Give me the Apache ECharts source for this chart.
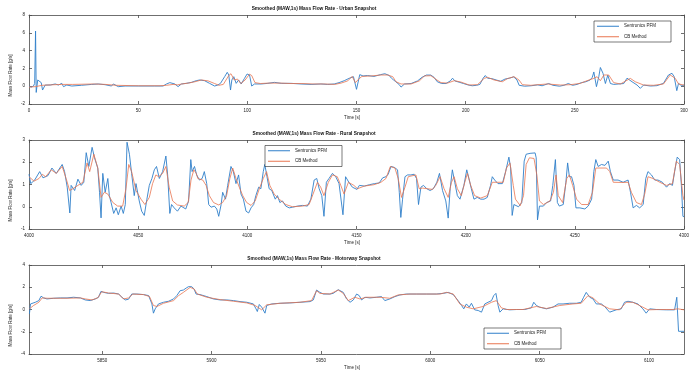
<!DOCTYPE html>
<html><head><meta charset="utf-8">
<script src="https://cdn.jsdelivr.net/npm/echarts@6/dist/echarts.min.js"></script>
<style>html,body{margin:0;padding:0;background:#fff}#c{width:692px;height:385px}</style>
</head><body><div id="c"></div>
<script>
// ---------------- DATA ----------------
const seriesNames = ['Sentronics PFM', 'CB Method'];
const titles = [
  'Smoothed (MAW,1s) Mass Flow Rate - Urban Snapshot',
  'Smoothed (MAW,1s) Mass Flow Rate - Rural Snapshot',
  'Smoothed (MAW,1s) Mass Flow Rate - Motorway Snapshot'
];
const xTicksUrban = [0, 50, 100, 150, 200, 250, 300];
const xTicksRural = [4000, 4050, 4100, 4150, 4200, 4250, 4300];
const xTicksMotorway = [5850, 5900, 5950, 6000, 6050, 6100];
const yTicksUrban = [-2, 0, 2, 4, 6, 8];
const yTicksRural = [-1, 0, 1, 2, 3];
const yTicksMotorway = [-4, -2, 0, 2, 4];

// Urban
const urbanPfmT = [0,1,2,2.6,3,3.3,3.6,4,4.3,5.6,6.2,7.4,9.7,12,13.5,15,15.8,17.3,19.6,24,28.7,31.7,34.8,37.8,38.6,40.9,44,50,57.6,61.4,63,64.5,66.8,68.3,69.8,72,74.4,76.6,78.2,80.4,82.7,85,86.5,87.7,89.6,90.8,91.5,92.3,92.9,93.8,94.9,96,97.2,98.7,99.9,101,102,103.3,106.3,109.4,112.4,115.5,120,124.6,129.2,133.7,136.8,139.8,142,144.4,146.6,148.6,150,151.5,153,155,158,161,163,165,166,167,168,169.5,170.4,172,175,178,180,182,184,185.5,187,189,191,193,194,195,197,199,201,203,205,206.5,208,209,210,212,214,216,218,220,222,223.5,224.5,227,230,233,235,238,240,243,245,247,249,251,253,255,257,258,258.7,259.9,261,261.7,262.9,264,265.1,266.3,267.8,270.1,272.4,273.9,274.7,276.2,278.5,280,281.5,284.6,287.6,290.6,292.9,294.5,295.5,296.7,297.5,299,300];
const urbanPfmV = [0,-0.1,0,0.3,6.2,-0.7,-0.6,0.7,0.5,0.4,-0.43,0.13,0.13,0.25,0.13,0.32,-0.05,0.13,0.02,0.1,0.2,0.25,0.17,0.02,0.25,-0.05,0.02,0.02,0.02,0.02,0.25,0.4,0.25,-0.05,0.25,0.32,0.43,0.62,0.7,0.62,0.32,0.02,0.13,0.32,1.07,1.56,1.26,-0.43,0.7,1.07,0.32,0.7,0.25,0.88,1.37,1.26,0.02,0.25,0.25,0.32,0.43,0.32,0.32,0.25,0.2,0.25,0.2,0.25,0.4,0.62,0.88,1.07,-0.35,1.3,1.15,1.2,1.1,1.3,1.4,1.2,0.9,0.7,0.5,0.2,-0.1,0.25,0.3,0.6,1.0,1.25,1.25,1.0,0.5,0.3,0.3,0.6,0.9,0.6,0.45,0.3,0.15,0.05,0.1,0.2,0.9,1.2,0.9,0.85,0.7,0.55,0.8,0.9,1.05,0.7,0.1,0,0.05,0.15,0.05,0.3,0.1,0,0.1,0.3,0.1,0.2,0.4,0.5,0.7,1.0,1.6,-0.05,1.1,2.1,1.45,0.3,1.25,0.3,0.2,0.25,0.3,0.9,1.07,0.5,0.13,-0.24,0.13,0.02,0.06,0.32,1.26,1.45,1.07,-0.5,0.32,0.02,0.13];
const urbanCbT = [0,3,6,10,15,20,30,35,40,50,60,63,66,68,70,73,76,79,82,85,87,89,91.5,92.5,94,95.5,97,99,101,102,103.5,106,110,115,120,125,130,135,140,143,146,148,149.5,151,152.5,156.7,161.3,164.3,166.6,168.1,170.4,175,178.8,181.1,184.1,186.4,188.7,191.7,194.8,197.8,201.6,205.4,208.5,210,213,216.8,219.1,222.2,224.4,226,229.8,237.4,243.5,248,252.6,255.6,258.7,260.2,261.7,263.3,265.5,267.8,270.9,275.4,277.7,281.5,286.1,290.6,293.7,296,297.5,300];
const urbanCbV = [-0.1,-0.05,0.1,0.15,0.2,0.2,0.25,0.2,0.1,0.05,0.05,0.1,0.2,0.15,0.25,0.35,0.5,0.7,0.6,0.3,0.1,0.2,1.2,1.4,0.7,0.8,0.3,0.7,1.35,1.2,0.4,0.3,0.35,0.35,0.3,0.3,0.25,0.25,0.2,0.35,0.6,1.1,0.4,0.8,1.1,1.15,1.26,1.26,1.07,0.5,0.25,0.25,0.6,1.15,1.18,0.77,0.4,0.35,0.62,0.47,0.13,0.17,0.88,1.0,0.7,0.5,0.85,1.07,0.7,0.17,0.1,0.25,0.13,0.17,0.32,0.62,0.88,1.07,0.62,1.26,1.26,0.4,0.25,0.88,0.5,0.13,0.1,0.25,1.26,0.88,0.25,0.13];

// Rural
const ruralPfmT = [4000,4000.8,4002.6,4004.9,4006.4,4008.7,4010.5,4012.5,4015.2,4016.3,4017.5,4018.7,4019.3,4020.9,4022.4,4023.9,4025.1,4026.2,4027.4,4028.9,4030,4031.5,4032.3,4033,4033.8,4034.9,4036.1,4036.8,4037.6,4038.8,4039.9,4040.9,4042.2,4043.2,4044.1,4044.9,4046,4047,4048.2,4049,4050.5,4051.6,4052.8,4054,4055.1,4056.3,4057.4,4058.4,4059.7,4061.2,4062.7,4063.5,4064.5,4065.3,4066.5,4068,4069.6,4071.8,4073.1,4074.1,4074.7,4075.8,4076.8,4078.1,4079.3,4080.3,4081.4,4082.3,4083.4,4084.9,4086,4086.9,4088,4088.7,4090,4091,4092.5,4093.6,4094.8,4096,4097.1,4098.2,4099.4,4100.6,4101.7,4102.9,4103.9,4105.2,4106.2,4107.3,4108,4109,4110,4111.2,4112.8,4113.8,4114.9,4116.1,4117.6,4119.2,4120.7,4123,4125.3,4127.5,4129.1,4130.6,4131.8,4132.9,4134.1,4135.1,4136.2,4137.4,4139,4140.5,4142,4142.8,4143.8,4145,4146.5,4148.1,4150.2,4151.3,4153.6,4155.9,4158.2,4160.4,4162,4163.5,4164.5,4165.8,4167.3,4168.8,4169.6,4170.3,4171.1,4172.2,4173.4,4174.9,4176.4,4177.5,4178.4,4179.5,4180.7,4182.2,4183.7,4185.2,4186.8,4188,4189.4,4190.9,4192,4192.9,4193.9,4195,4196.2,4197.4,4199.2,4200.5,4201.5,4202.6,4203.8,4205.3,4206.9,4208.4,4209.9,4211.4,4212.2,4213.3,4214.8,4216.8,4218.3,4219.8,4220.6,4221.3,4222.1,4224.2,4225.7,4226.8,4227.7,4229.5,4231.8,4232.3,4232.9,4233.8,4235.6,4237.1,4238.9,4239.9,4241.1,4242,4242.9,4244.7,4245.9,4246.7,4247.5,4248.5,4249.6,4250.5,4252.3,4254.6,4256.1,4257.7,4258.7,4259.6,4260.7,4262.2,4263.8,4265.3,4266.3,4267.6,4269.8,4272.1,4274.4,4275.5,4276.7,4278.2,4279.7,4281.3,4282.5,4283.5,4285.1,4286.6,4288.1,4290.1,4292,4293.4,4294.7,4295.7,4296.9,4298,4298.8,4299.5,4300];
const ruralPfmV = [1.46,1.04,1.2,1.58,1.3,1.4,1.74,1.5,1.9,1.58,0.88,-0.28,0.96,0.73,1.24,0.96,1.1,2.43,1.81,2.67,2.2,1.74,0.65,-0.5,1.5,0.65,1.27,0.5,0.19,-0.3,-0.05,-0.36,0.03,-0.3,0.1,2.9,2.36,1.5,0.5,1.04,0.26,-0.2,-0.39,0.34,0.96,1.27,1.66,1.81,1.27,1.58,2.28,1.43,-0.3,0.1,-0.05,-0.2,0.03,-0.1,0.26,2.12,1.58,1.81,1.43,1.2,1.27,1.58,1.04,0.1,-0.02,0.03,-0.1,-0.43,0.1,0.65,0.34,0.96,1.81,1.58,1.04,1.43,0.57,0.34,-0.2,-0.28,-0.05,0.1,0.5,0.88,0.81,1.58,1.9,1.35,0.81,0.73,0.34,0.5,0.19,0.26,0.03,-0.05,-0.02,0.03,0.06,0.03,0.34,1.2,1.27,0.81,0.5,-0.43,1.1,1.27,1.5,1.35,1.04,0.96,-0.36,1.35,1.1,0.88,0.78,0.96,0.93,0.99,1.04,1.07,1.3,1.35,1.46,1.81,1.77,1.66,0.65,-0.48,0.34,1.35,1.43,1.43,1.46,1.27,0.1,0.88,0.96,0.81,0.73,0.81,1.1,1.5,0.73,0.26,-0.51,0.81,1.66,1.1,0.5,0.34,0.96,1.66,1.27,0.81,0.34,0.42,0.34,0.34,0.42,0.96,1.35,1.2,1.04,1.04,1.58,2.23,1.74,-0.39,0.1,0,0.19,2.05,2.36,2.4,2.42,2.2,-0.59,0.03,0.03,0.19,0.26,0.96,2.12,0.19,0.03,0.1,1.1,1.97,1.35,1.35,0.96,-0.05,-0.05,-0.1,0.03,0.34,1.58,2.12,1.81,1.9,1.86,2.05,1.58,1.2,1.2,1.1,1.2,0.65,-0.05,0.06,-0.05,0.1,1.27,1.58,1.43,1.2,1.2,1.1,0.88,1.04,0.96,1.58,2.23,2.12,0.96,-0.43,-0.45];
const ruralCbT = [4000,4002.3,4004.6,4006.1,4007.6,4010.2,4012.5,4015.2,4017,4018.6,4020.1,4022.4,4024.7,4026.6,4027.8,4029.7,4031.5,4033,4034.5,4036.1,4038.4,4040.6,4042.9,4044.4,4045.7,4047,4049,4051.3,4053.1,4055.1,4056.6,4058.1,4059.4,4061.2,4062.7,4064.2,4065.8,4068,4071.1,4072.9,4074.2,4075.5,4076.6,4077.3,4079.6,4081.1,4082.6,4084.5,4086.9,4088.7,4090.5,4092,4093.3,4094.8,4096.3,4097.9,4099.7,4101.7,4103.6,4105.5,4107.3,4108.8,4110.3,4112.3,4114.6,4117.6,4120.7,4125.3,4128.3,4130.1,4132.1,4133.6,4135.1,4137.1,4139,4141.2,4142.8,4144.3,4146.3,4148.8,4150.5,4153.6,4158,4161.2,4163.5,4165.5,4167.6,4169.1,4170.6,4172.2,4173.7,4177.2,4178.7,4180.2,4182.5,4184.8,4186.3,4188.3,4190.1,4192,4193.5,4194.7,4196.2,4198,4199.6,4200.8,4202.3,4204.1,4206.9,4209.9,4212.2,4214.5,4217.2,4218.7,4220.3,4221.8,4222.8,4225,4226.5,4227.7,4229.2,4231.3,4232.6,4233.8,4235.6,4238.6,4240.2,4241.4,4242.4,4244.4,4246.3,4247.5,4249,4250.8,4253.1,4256.1,4258.1,4259.6,4261.5,4264.5,4266,4267.6,4272.1,4274.4,4275.9,4278.2,4280.5,4282,4283.5,4285.8,4288.9,4292,4294.7,4296.5,4298,4299.5,4300];
const ruralCbV = [1.35,1.15,1.27,1.46,1.35,1.66,1.5,1.81,1.27,0.73,0.81,0.96,1.1,1.97,1.58,2.36,1.74,0.42,0.65,0.57,0.19,0.03,0.03,0.81,1.9,1.58,0.73,0.34,0.1,0.42,1.04,1.43,1.35,1.5,1.81,0.88,0.26,0.08,0.03,0.19,1.2,1.66,1.5,1.27,1.2,0.96,0.5,0.19,0.08,0.19,0.5,1.27,1.74,1.27,0.88,0.5,0.19,0.06,0.26,0.81,1.27,1.58,0.96,0.57,0.34,0.1,0,0.03,0.1,0.57,1.1,0.88,0.5,1.1,1.43,1.35,0.96,0.57,1.1,0.96,0.81,0.93,0.99,1.1,1.27,1.81,1.74,1.27,0.42,0.88,1.35,1.43,0.81,0.84,0.81,0.78,0.96,1.35,0.81,0.42,1.1,1.35,0.81,0.5,1.1,1.5,0.96,0.5,0.39,0.5,1.1,1.1,1.1,1.74,1.97,0.96,0.34,0.05,0.5,1.9,2.2,2.17,1.43,0.26,0.1,0.26,0.65,1.43,0.5,0.19,1.27,1.43,0.96,0.34,0.1,0.1,0.65,1.74,1.74,1.74,1.58,1.1,1.09,1.1,0.65,0.19,0.1,0.57,1.35,1.27,1.1,0.96,1.04,2.05,1.9,0.5,0.3];

// Motorway
const motorPfmT = [5816.7,5817.2,5818,5819.4,5821,5822,5823.2,5824.7,5827.8,5830.8,5833.9,5836.9,5840,5842.2,5844.5,5846.8,5848.3,5849.4,5850.6,5852.9,5855.2,5857.5,5859,5860.5,5862,5863.5,5865.8,5868.9,5871.2,5871.9,5872.7,5873.4,5874.2,5875.7,5878,5880.3,5882.6,5884.1,5885.6,5887.1,5888.4,5889.4,5890.9,5892,5892.9,5894.7,5897.8,5900.8,5903.9,5906.9,5910,5913,5916.1,5919.1,5920.3,5920.9,5921.8,5922.9,5924.4,5925.2,5927.5,5931.3,5935.8,5940.4,5945,5946.5,5948,5949.5,5951.1,5954.1,5955.6,5957.9,5958.7,5960.2,5961.7,5963.3,5964.8,5966.3,5967.5,5968.6,5970.1,5972.4,5975.4,5977.7,5979.2,5981.5,5983.8,5986.1,5989.1,5993.7,5998.3,6002.8,6005.9,6008.2,6010.5,6012.7,6014.3,6015.3,6016.5,6017.8,6018.8,6020.3,6021.9,6023.4,6024.1,6024.9,6026.4,6028,6029,6030,6031,6031.8,6033.3,6036.3,6039.4,6043.2,6046.2,6047.3,6048.5,6050,6053.1,6056.1,6058.4,6060.7,6063.7,6066.8,6069,6070.1,6071.3,6072.9,6074.4,6075.9,6078.2,6079.7,6082,6085,6087.3,6088.8,6090.4,6092.6,6094.9,6097.2,6098.7,6100.3,6103.3,6107.9,6111.7,6112.7,6113.5,6116];
const motorPfmV = [-0.39,0.5,0.56,0.65,0.8,1.19,1.04,0.95,1.01,1.04,1.04,1.1,1.04,0.86,0.8,0.95,1.1,1.63,1.54,1.45,1.48,1.39,1.1,0.86,0.92,1.39,1.39,1.34,1.25,1.39,0.5,-0.33,0.06,0.5,0.65,0.74,0.95,1.25,1.69,1.75,1.93,2.05,2.05,1.84,1.39,1.34,1.16,0.95,0.86,0.86,0.8,0.71,0.65,0.5,0.06,-0.18,0.45,0.21,-0.33,0.36,0.5,0.56,0.59,0.65,0.71,0.86,1.75,1.54,1.39,1.39,1.45,1.78,1.75,1.54,0.95,0.65,0.86,1.39,1.25,0.86,1.1,1.04,1.1,1.16,0.8,0.95,1.16,1.31,1.39,1.39,1.39,1.39,1.45,1.54,1.34,0.8,0.36,0.06,0.5,0.21,0.56,-0.03,-0.09,-0.24,-0.39,0.5,0.65,0.8,1.25,1.45,0.36,-0.24,0.06,-0.03,0,0,0.15,0.65,0.36,0.21,0.06,0.21,0.5,0.5,0.56,0.56,0.65,1.1,1.54,1.1,0.95,0.5,0.5,0.27,-0.24,-0.03,0.06,0.65,0.74,0.65,0.5,0.06,-0.33,0.06,0,-0.03,-0.03,1.1,-1.96,-1.96];
const motorCbT = [5816.7,5818.6,5821,5822.5,5825,5833.9,5840,5842.2,5845.3,5847.9,5849.8,5852.9,5857.5,5859.7,5862,5864,5868.9,5871.6,5873.4,5875,5878,5882.6,5884.9,5887.1,5890.2,5892,5893.5,5897.8,5903.9,5910,5916.1,5919.9,5922.9,5925.2,5931.3,5940.4,5945.7,5948,5949.5,5954.1,5957.9,5958.7,5960.2,5962.5,5965.5,5967.8,5970.9,5977,5981.5,5985.3,5990.7,6004.4,6007.4,6010.5,6013.5,6016.5,6019.6,6024.1,6028,6030.2,6032.5,6034.8,6042.4,6048.5,6053.1,6059.2,6065.2,6069,6072.1,6074.4,6077.4,6082,6086.5,6089.6,6092.6,6095.7,6099.5,6104.8,6110.9,6113.2,6116];
const motorCbV = [0.06,0.36,0.65,1.04,1.01,1.01,1.04,0.95,0.86,1.04,1.6,1.48,1.39,0.95,1.04,1.39,1.34,1.16,0.36,0.27,0.56,0.8,1.25,1.54,1.99,1.84,1.39,1.1,0.89,0.74,0.59,0.36,-0.03,0.42,0.56,0.65,0.8,1.69,1.45,1.39,1.75,1.69,1.45,0.8,1.1,0.95,1.1,1.1,1.01,1.31,1.39,1.39,1.54,1.39,0.5,0.21,0.06,0.27,0.65,0.8,0.15,0,0,0.27,0.09,0.36,0.5,0.56,1.25,1.04,0.5,0.06,-0.03,0.65,0.65,0.36,-0.03,0,0,0.06,-0.03];

// ---------------- CHART ----------------
const zip = (t, v) => t.map((x, i) => [x, v[i]]);
const panels = [
  {x: xTicksUrban, y: yTicksUrban, pfm: zip(urbanPfmT, urbanPfmV), cb: zip(urbanCbT, urbanCbV), top: 15, legend: {left: 594, top: 21}},
  {x: xTicksRural, y: yTicksRural, pfm: zip(ruralPfmT, ruralPfmV), cb: zip(ruralCbT, ruralCbV), top: 140, legend: {left: 265, top: 145.5}},
  {x: xTicksMotorway, y: yTicksMotorway, pfm: zip(motorPfmT, motorPfmV), cb: zip(motorCbT, motorCbV), top: 265, legend: {left: 484, top: 328}, xMin: 5816.5, xMax: 6116}
];
const FONT = 'Liberation Sans';
const AX = '#4a4a4a';
const COL_PFM = '#2f7fca', COL_CB = '#e8744f';
const fmt = v => String(v);
const grids = [], xAxes = [], yAxes = [], series = [], legends = [], titleList = [];
panels.forEach((p, i) => {
  grids.push({left: 29, right: 8, top: p.top, height: 89, outerBoundsMode: 'none', containLabel: false});
  const xMin = p.xMin !== undefined ? p.xMin : p.x[0];
  const xMax = p.xMax !== undefined ? p.xMax : p.x[p.x.length - 1];
  const yMin = p.y[0], yMax = p.y[p.y.length - 1];
  const common = {type: 'value', gridIndex: i, min: xMin, max: xMax, splitLine: {show: false},
    axisLine: {show: true, onZero: false, lineStyle: {color: AX, width: 0.8}},
    axisTick: {show: true, inside: true, length: 3, lineStyle: {color: AX, width: 0.8}, customValues: p.x}};
  xAxes.push(Object.assign({}, common, {position: 'bottom',
    axisLabel: {show: true, customValues: p.x, formatter: fmt, fontSize: 4.5, color: '#222', fontFamily: FONT, margin: 4},
    name: 'Time [s]', nameLocation: 'middle', nameGap: 11.5, nameMoveOverlap: false,
    nameTextStyle: {fontSize: 4.5, color: '#222', fontFamily: FONT, padding: [0, 9, 0, 0]}}));
  xAxes.push(Object.assign({}, common, {position: 'top', axisLabel: {show: false}}));
  const ycommon = {type: 'value', gridIndex: i, min: yMin, max: yMax, interval: p.y[1] - p.y[0], splitLine: {show: false},
    axisLine: {show: true, onZero: false, lineStyle: {color: AX, width: 0.8}},
    axisTick: {show: true, inside: true, length: 3, lineStyle: {color: AX, width: 0.8}}};
  yAxes.push(Object.assign({}, ycommon, {position: 'left',
    axisLabel: {show: true, formatter: fmt, fontSize: 4.5, color: '#222', fontFamily: FONT, margin: 4},
    name: 'Mass Flow Rate [g/s]', nameLocation: 'middle', nameGap: 16, nameMoveOverlap: false,
    nameTextStyle: {fontSize: 4.5, color: '#222', fontFamily: FONT, padding: [0, 32, 0, 0]}}));
  yAxes.push(Object.assign({}, ycommon, {position: 'right', axisLabel: {show: false}}));
  titleList.push({text: titles[i], left: 314, top: p.top - 9, textAlign: 'center', padding: 0,
    textStyle: {fontSize: 4.8, fontWeight: 'bold', color: '#111', fontFamily: FONT}});
  legends.push({orient: 'vertical', left: p.legend.left, top: p.legend.top,
    data: [{name: seriesNames[0], itemStyle: {color: COL_PFM}}, {name: seriesNames[1], itemStyle: {color: COL_CB}}],
    icon: 'rect', itemWidth: 22, itemHeight: 1, itemGap: 5, padding: [2.5, 15, 2.5, 3],
    backgroundColor: '#fff', borderColor: '#222', borderWidth: 0.6, borderRadius: 0,
    selectedMode: false, textStyle: {fontSize: 4.5, color: '#222', fontFamily: FONT, lineHeight: 5.5}});
  series.push({name: seriesNames[0], type: 'line', xAxisIndex: 2 * i, yAxisIndex: 2 * i, data: p.pfm,
    symbol: 'none', showSymbol: false, silent: true, lineStyle: {color: COL_PFM, width: 0.9}, itemStyle: {color: COL_PFM}, z: 2});
  series.push({name: seriesNames[1], type: 'line', xAxisIndex: 2 * i, yAxisIndex: 2 * i, data: p.cb,
    symbol: 'none', showSymbol: false, silent: true, lineStyle: {color: COL_CB, width: 0.8}, itemStyle: {color: COL_CB}, z: 3});
});
const chart = echarts.init(document.getElementById('c'), null, {renderer: 'canvas'});
chart.setOption({animation: false, backgroundColor: '#fff', title: titleList, grid: grids,
  xAxis: xAxes, yAxis: yAxes, legend: legends, series: series});
</script></body></html>
